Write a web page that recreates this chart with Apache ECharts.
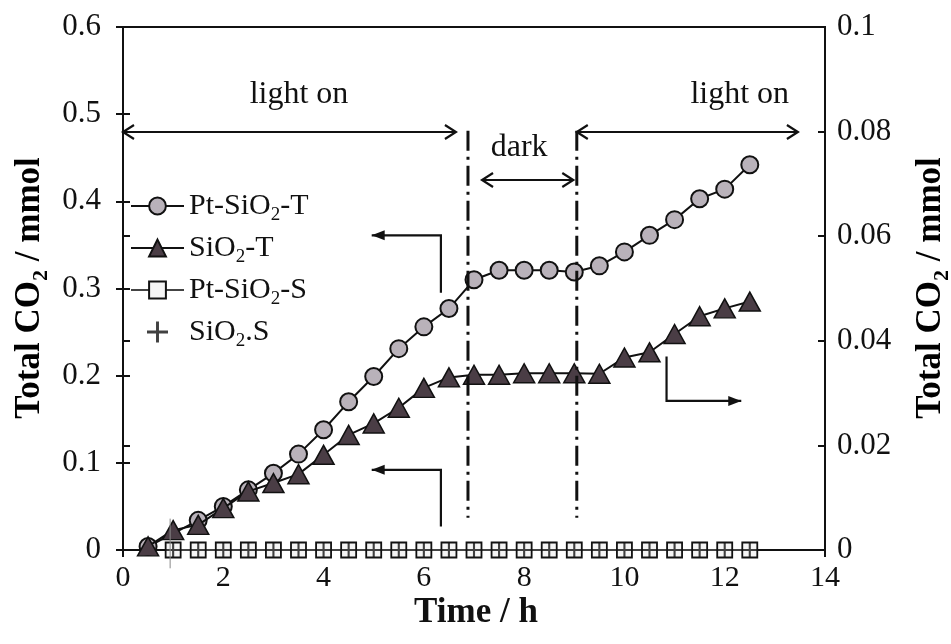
<!DOCTYPE html>
<html>
<head>
<meta charset="utf-8">
<script src="https://cdn.jsdelivr.net/npm/echarts@6/dist/echarts.min.js"></script>
<style>
  html, body { margin: 0; padding: 0; background: #fff; }
  #chart { width: 951px; height: 644px; }
</style>
</head>
<body>
<div id="chart"></div>
<script>
// ---- data -------------------------------------------------------------
// Pt-SiO2-T (left axis, mmol)
const timePtT = [0.5, 1.5, 2.0, 2.5, 3.0, 3.5, 4.0, 4.5, 5.0, 5.5, 6.0, 6.5,
                 7.0, 7.5, 8.0, 8.5, 9.0, 9.5, 10.0, 10.5, 11.0, 11.5, 12.0, 12.5];
const valPtT  = [0.004, 0.034, 0.050, 0.069, 0.088, 0.110, 0.138, 0.170, 0.199, 0.231, 0.256, 0.277,
                 0.310, 0.321, 0.321, 0.321, 0.319, 0.326, 0.342, 0.361, 0.379, 0.403, 0.414, 0.442];

// SiO2-T (right axis, mmol)
const timeSiT = [0.5, 1.0, 1.5, 2.0, 2.5, 3.0, 3.5, 4.0, 4.5, 5.0, 5.5, 6.0, 6.5,
                 7.0, 7.5, 8.0, 8.5, 9.0, 9.5, 10.0, 10.5, 11.0, 11.5, 12.0, 12.5];
const valSiT  = [0.0007, 0.0038, 0.0048, 0.0080, 0.0112, 0.0128, 0.0145, 0.0182, 0.0220, 0.0242, 0.0272, 0.0310, 0.0330,
                 0.0335, 0.0335, 0.0338, 0.0338, 0.0338, 0.0337, 0.0368, 0.0378, 0.0413, 0.0447, 0.0462, 0.0475];

// Pt-SiO2-S and SiO2-S (left axis, mmol)
const timeS  = [1.0, 1.5, 2.0, 2.5, 3.0, 3.5, 4.0, 4.5, 5.0, 5.5, 6.0, 6.5,
                7.0, 7.5, 8.0, 8.5, 9.0, 9.5, 10.0, 10.5, 11.0, 11.5, 12.0, 12.5];
const valPtS = [0, 0, 0, 0, 0, 0, 0, 0, 0, 0, 0, 0, 0, 0, 0, 0, 0, 0, 0, 0, 0, 0, 0, 0];
const valSiS = [0, 0, 0, 0, 0, 0, 0, 0, 0, 0, 0, 0, 0, 0, 0, 0, 0, 0, 0, 0, 0, 0, 0, 0];

// axis ticks
const xTicks     = [0, 2, 4, 6, 8, 10, 12, 14];
const leftTicks  = [0, 0.1, 0.2, 0.3, 0.4, 0.5, 0.6];
const rightTicks = [0, 0.02, 0.04, 0.06, 0.08, 0.1];

// light / dark periods (h)
const darkStart = 6.88, darkEnd = 9.05;

// ---- styling ----------------------------------------------------------
const FONT = "'Liberation Serif','Times New Roman',serif";
const INK = '#111';
const pair = (xs, ys) => xs.map((x, i) => [x, ys[i]]);

const span = arr => ({ min: arr[0], max: arr[arr.length - 1], interval: arr[1] - arr[0] });

function axisX(withLabels, inside) {
  return Object.assign({
    type: 'value', position: 'bottom',
    axisLine: { show: withLabels, lineStyle: { color: INK, width: 2 } },
    axisTick: { show: true, inside: inside, length: 7, lineStyle: { color: INK, width: 2 } },
    axisLabel: { show: withLabels, color: INK, fontFamily: FONT, fontSize: 30, margin: 13 },
    splitLine: { show: false }
  }, span(xTicks));
}
function axisY(ticks, side, withLabels, inside, margin) {
  return Object.assign({
    type: 'value', position: side, offset: 0,
    axisLine: { show: withLabels, lineStyle: { color: INK, width: 2 } },
    axisTick: { show: true, inside: inside, length: 7, lineStyle: { color: INK, width: 2 } },
    axisLabel: { show: withLabels, color: INK, fontFamily: FONT, fontSize: 31, margin: margin },
    splitLine: { show: false }
  }, span(ticks));
}

const subRich = (size, bold) => ({
  n: { fontFamily: FONT, fontSize: size, fontWeight: bold ? 'bold' : 'normal', color: INK,
       lineHeight: size, verticalAlign: 'top' },
  s: { fontFamily: FONT, fontSize: Math.round(size * 0.64), fontWeight: bold ? 'bold' : 'normal', color: INK,
       lineHeight: Math.round(size * 0.64), padding: [Math.round(size * 0.5), 0, 0, 0], verticalAlign: 'top' }
});

const legendNames = {
  'Pt-SiO2-T': '{n|Pt-SiO}{s|2}{n|-T}',
  'SiO2-T': '{n|SiO}{s|2}{n|-T}',
  'Pt-SiO2-S': '{n|Pt-SiO}{s|2}{n|-S}',
  'SiO2.S': '{n|SiO}{s|2}{n|.S}'
};

const PLUS = 'path://M4.3,0h1.4v4.3h4.3v1.4h-4.3v4.3h-1.4v-4.3h-4.3v-1.4h4.3z';

const chart = echarts.init(document.getElementById('chart'), null, { renderer: 'canvas' });

chart.setOption({
  animation: false,
  backgroundColor: '#fff',
  grid: { left: 123, right: 126, top: 27, bottom: 94, show: true,
          borderColor: INK, borderWidth: 2, backgroundColor: 'transparent' },
  xAxis: [axisX(true, false), axisX(false, true)],
  yAxis: [
    axisY(leftTicks, 'left', true, false, 22),
    axisY(rightTicks, 'right', true, false, 12),
    axisY(leftTicks, 'left', false, true, 0),
    axisY(rightTicks, 'right', false, true, 0)
  ],
  legend: {
    orient: 'vertical', left: 130, top: 191, padding: 0,
    itemWidth: 53, itemHeight: 21, itemGap: 8,
    selectedMode: false,
    data: ['Pt-SiO2-T', 'SiO2-T', 'Pt-SiO2-S', 'SiO2.S'],
    formatter: name => legendNames[name],
    textStyle: { fontFamily: FONT, fontSize: 30, color: INK, rich: subRich(30, false) }
  },
  series: [
    {
      name: 'Pt-SiO2-T', type: 'line', xAxisIndex: 0, yAxisIndex: 0, z: 3,
      data: pair(timePtT, valPtT),
      symbol: 'circle', symbolSize: 17, showAllSymbol: true,
      lineStyle: { color: INK, width: 2 },
      itemStyle: { color: '#b9b2ba', borderColor: INK, borderWidth: 2 }
    },
    {
      name: 'SiO2-T', type: 'line', xAxisIndex: 0, yAxisIndex: 1, z: 4,
      data: pair(timeSiT, valSiT),
      symbol: 'triangle', symbolSize: [21, 19], showAllSymbol: true,
      lineStyle: { color: INK, width: 2 },
      itemStyle: { color: '#4a3d45', borderColor: INK, borderWidth: 1.5 }
    },
    {
      name: 'Pt-SiO2-S', type: 'line', xAxisIndex: 0, yAxisIndex: 0, z: 5,
      data: pair(timeS, valPtS),
      symbol: 'rect', symbolSize: 15, showAllSymbol: true,
      lineStyle: { color: '#444', width: 2 },
      itemStyle: { color: '#f4f4f4', borderColor: INK, borderWidth: 1.8 }
    },
    {
      name: 'SiO2.S', type: 'scatter', xAxisIndex: 0, yAxisIndex: 0, z: 6,
      data: pair(timeS, valSiS),
      symbol: PLUS, symbolSize: 15, symbolKeepAspect: true,
      itemStyle: { color: INK }
    }
  ]
});

// ---- annotations, positioned through the chart's own scales ------------
const px = (t, v) => chart.convertToPixel({ xAxisIndex: 0, yAxisIndex: 0 }, [t, v]);

function line(points, opts) {
  return { type: 'polyline', z: 20, shape: { points: points.map(p => px(p[0], p[1])) },
           style: Object.assign({ stroke: INK, lineWidth: 2, fill: null }, opts || {}) };
}
function chevron(tip, dir) {            // open arrow head
  const [x, y] = tip;
  return { type: 'polyline', z: 20,
           shape: { points: [[x - dir * 11, y - 7], [x, y], [x - dir * 11, y + 7]] },
           style: { stroke: INK, lineWidth: 2.2, fill: null } };
}
function solidHead(tip, dir) {          // filled arrow head
  const [x, y] = tip;
  return { type: 'polygon', z: 21,
           shape: { points: [[x, y], [x - dir * 13, y - 5], [x - dir * 13, y + 5]] },
           style: { fill: INK } };
}
function doubleArrow(t0, t1, v) {
  const a = px(t0, v), b = px(t1, v);
  return [line([[t0, v], [t1, v]]), chevron(a, -1), chevron(b, 1)];
}
function elbow(points, dir) {
  const last = points[points.length - 1];
  return [line(points, { lineWidth: 2.2 }), solidHead(px(last[0], last[1]), dir)];
}
function label(t, v, text, size) {
  const [x, y] = px(t, v);
  return { type: 'text', z: 22, x: x, y: y,
           style: { text: text, fontFamily: FONT, fontSize: size, fill: INK,
                    align: 'center', verticalAlign: 'middle' } };
}
function axisTitle(x, y, rotation) {
  return { type: 'text', z: 22, x: x, y: y, rotation: rotation,
           style: { text: '{n|Total CO}{s|2}{n| / mmol}', align: 'center', verticalAlign: 'middle',
                    rich: subRich(35, true) } };
}

const dashDot = { lineWidth: 3, lineDash: [20, 6, 3, 6] };

const graphics = [].concat(
  doubleArrow(0, 6.64, 0.4795),
  doubleArrow(darkEnd, 13.46, 0.4795),
  doubleArrow(7.16, 8.98, 0.4245),
  [line([[darkStart, 0.481], [darkStart, 0.037]], dashDot),
   line([[darkEnd, 0.481], [darkEnd, 0.037]], dashDot)],
  elbow([[6.34, 0.295], [6.34, 0.361], [4.96, 0.361]], -1),
  elbow([[6.34, 0.027], [6.34, 0.092], [4.96, 0.092]], -1),
  elbow([[10.84, 0.222], [10.84, 0.171], [12.33, 0.171]], 1),
  [line([[0.94, 0.036], [0.94, -0.021]], { stroke: '#8a8a8a', lineWidth: 1 })],
  [label(3.51, 0.522, 'light on', 32),
   label(12.3, 0.522, 'light on', 32),
   label(7.9, 0.462, 'dark', 32)],
  [axisTitle(30, 288, Math.PI / 2),
   axisTitle(931, 288, Math.PI / 2),
   { type: 'text', z: 22, x: 476, y: 613,
     style: { text: 'Time / h', fontFamily: FONT, fontSize: 35, fontWeight: 'bold', fill: INK,
              align: 'center', verticalAlign: 'middle' } }]
);

chart.setOption({ graphic: graphics });
</script>
</body>
</html>
